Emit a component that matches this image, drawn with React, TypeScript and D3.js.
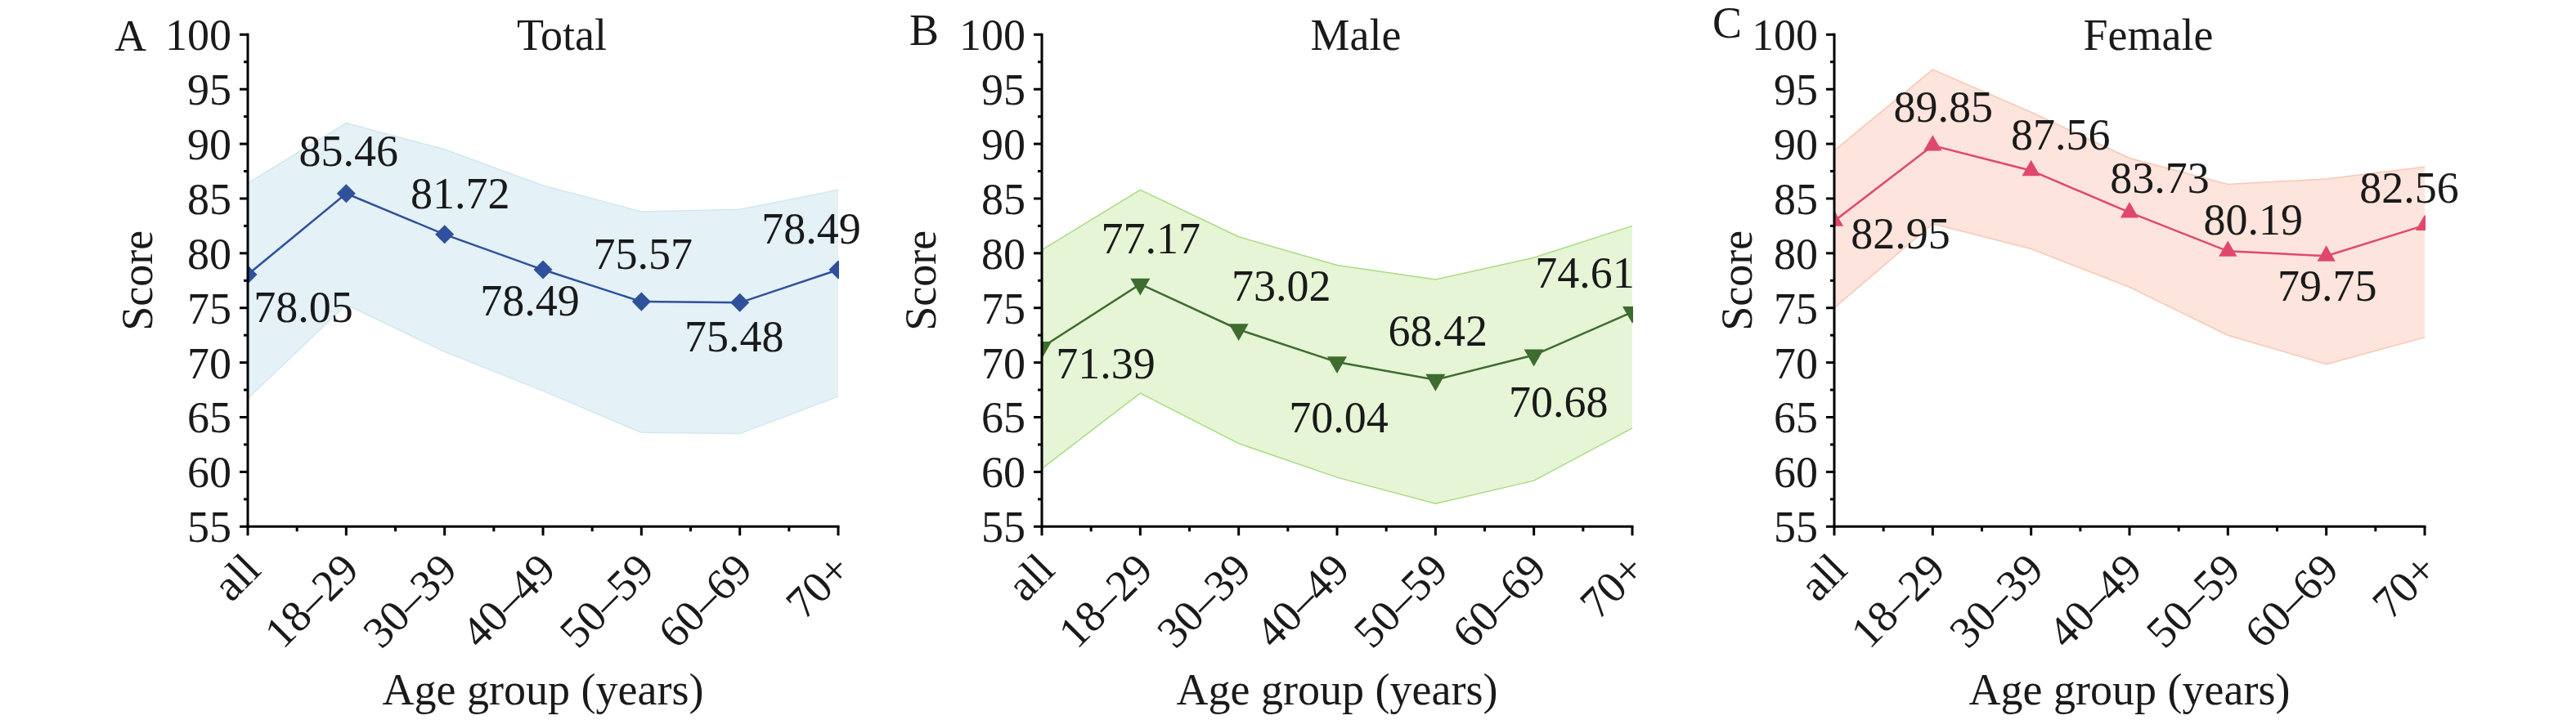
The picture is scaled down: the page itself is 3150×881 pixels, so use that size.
import React from 'react';
import * as d3 from 'd3';

const categories = ['all', '18–29', '30–39', '40–49', '50–59', '60–69', '70+'];
const yTicks = [55, 60, 65, 70, 75, 80, 85, 90, 95, 100];
const yMinorTicks = [57.5, 62.5, 67.5, 72.5, 77.5, 82.5, 87.5, 92.5, 97.5];

const totalMean = [78.05, 85.46, 81.72, 78.49, 75.57, 75.48, 78.49];
const totalUpper = [86.4, 91.9, 89.5, 86.2, 83.8, 84.0, 85.8];
const totalLower = [66.7, 75.3, 71.0, 67.4, 63.6, 63.5, 66.9];

const maleMean = [71.39, 77.17, 73.02, 70.04, 68.42, 70.68, 74.61];
const maleUpper = [80.3, 85.8, 81.5, 78.9, 77.6, 79.6, 82.5];
const maleLower = [60.3, 67.2, 62.6, 59.5, 57.1, 59.2, 64.0];

const femaleMean = [82.95, 89.85, 87.56, 83.73, 80.19, 79.75, 82.56];
const femaleUpper = [89.4, 96.8, 92.9, 88.7, 86.3, 86.8, 87.9];
const femaleLower = [75.0, 82.7, 80.4, 76.9, 72.5, 69.85, 72.3];

// value-label offsets (layout only): [dx, dy] relative to point
const totalLabelOffset = [[68, 58], [3, -34], [19, -32], [-16, 56], [2, -40], [-7, 60], [-33, -32]];
const maleLabelOffset = [[78, 38], [13, -38], [52, -35], [2, 86], [3, -42], [30, 75], [-58, -30]];
const femaleLabelOffset = [[81, 34], [13, -29], [36, -26], [37, -24], [31, -20], [1, 55], [-19, -28]];

const FONT = '"Liberation Serif", "Times New Roman", Times, serif';
const FS = 54;
const Y_TOP = 42.3;
const Y_BOTTOM = 644.3;
const PLOT_W = 722;

type Panel = {
  key: string;
  letter: string;
  title: string;
  x0: number;
  letterX: number;
  letterY: number;
  scoreX: number;
  mean: number[];
  upper: number[];
  lower: number[];
  offsets: number[][];
  fill: string;
  edge: string;
  color: string;
  marker: 'diamond' | 'down' | 'up';
};

const panels: Panel[] = [
  { key: 'A', letter: 'A', title: 'Total', x0: 303, letterX: 140, letterY: 62, scoreX: 186,
    mean: totalMean, upper: totalUpper, lower: totalLower, offsets: totalLabelOffset,
    fill: '#e4f1f6', edge: '#d2e8f0', color: '#2f519c', marker: 'diamond' },
  { key: 'B', letter: 'B', title: 'Male', x0: 1274, letterX: 1112, letterY: 55, scoreX: 1144,
    mean: maleMean, upper: maleUpper, lower: maleLower, offsets: maleLabelOffset,
    fill: '#e6f5d6', edge: '#a9dc82', color: '#3e6c2f', marker: 'down' },
  { key: 'C', letter: 'C', title: 'Female', x0: 2243, letterX: 2094, letterY: 46, scoreX: 2142,
    mean: femaleMean, upper: femaleUpper, lower: femaleLower, offsets: femaleLabelOffset,
    fill: '#fde4dc', edge: '#f7c8b3', color: '#e0486b', marker: 'up' },
];

function PanelView({ p }: { p: Panel }) {
  const x = d3.scalePoint<string>().domain(categories).range([p.x0, p.x0 + PLOT_W]);
  const y = d3.scaleLinear().domain([55, 100]).range([Y_BOTTOM, Y_TOP]);
  const idx = d3.range(categories.length);
  const area = d3.area<number>()
    .x((i) => x(categories[i]) as number)
    .y0((i) => y(p.lower[i]))
    .y1((i) => y(p.upper[i]));
  const upperLine = d3.line<number>().x((i) => x(categories[i]) as number).y((i) => y(p.upper[i]));
  const lowerLine = d3.line<number>().x((i) => x(categories[i]) as number).y((i) => y(p.lower[i]));
  const line = d3.line<number>().x((i) => x(categories[i]) as number).y((i) => y(p.mean[i]));

  let symPath: string;
  let rot = 0;
  if (p.marker === 'diamond') {
    symPath = d3.symbol().type(d3.symbolSquare).size(265)() as string;
    rot = 45;
  } else if (p.marker === 'up') {
    symPath = d3.symbol().type(d3.symbolTriangle).size(215)() as string;
  } else {
    symPath = d3.symbol().type(d3.symbolTriangle).size(250)() as string;
    rot = 180;
  }
  const clipId = `clip-${p.key}`;
  const step = x.step();
  const xMinor = idx.slice(0, -1).map((i) => (x(categories[i]) as number) + step / 2);

  return (
    <g>
      <defs>
        <clipPath id={clipId}>
          <rect x={p.x0} y={Y_TOP - 1} width={PLOT_W + 1} height={Y_BOTTOM - Y_TOP + 2} />
        </clipPath>
      </defs>
      <g clipPath={`url(#${clipId})`}>
        <path d={area(idx) as string} fill={p.fill} stroke="none" />
        <path d={upperLine(idx) as string} fill="none" stroke={p.edge} strokeWidth={1.5} />
        <path d={lowerLine(idx) as string} fill="none" stroke={p.edge} strokeWidth={1.5} />
        <path d={line(idx) as string} fill="none" stroke={p.color} strokeWidth={2.5} />
        {idx.map((i) => (
          <path key={i} d={symPath} fill={p.color}
            transform={`translate(${x(categories[i])},${y(p.mean[i])}) rotate(${rot})`} />
        ))}
      </g>
      {idx.map((i) => (
        <text key={`l${i}`} x={(x(categories[i]) as number) + p.offsets[i][0]} y={y(p.mean[i]) + p.offsets[i][1]}
          textAnchor="middle" fontFamily={FONT} fontSize={FS} fill="#1a1a1a">
          {p.mean[i].toFixed(2)}
        </text>
      ))}
      {/* axes */}
      <line x1={p.x0} x2={p.x0} y1={Y_TOP - 1.5} y2={Y_BOTTOM + 1.5} stroke="#000" strokeWidth={3} />
      <line x1={p.x0 - 1.5} x2={p.x0 + PLOT_W + 1.5} y1={Y_BOTTOM} y2={Y_BOTTOM} stroke="#000" strokeWidth={3} />
      {yTicks.map((t) => (
        <g key={`yt${t}`}>
          <line x1={p.x0 - 10} x2={p.x0} y1={y(t)} y2={y(t)} stroke="#000" strokeWidth={3} />
          <text x={p.x0 - 20} y={y(t)} dy="0.35em" textAnchor="end" fontFamily={FONT} fontSize={FS} fill="#1a1a1a">{t}</text>
        </g>
      ))}
      {yMinorTicks.map((t) => (
        <line key={`ym${t}`} x1={p.x0 - 5} x2={p.x0} y1={y(t)} y2={y(t)} stroke="#000" strokeWidth={3} />
      ))}
      {categories.map((c) => (
        <g key={`xt${c}`}>
          <line x1={x(c)} x2={x(c)} y1={Y_BOTTOM} y2={Y_BOTTOM + 11} stroke="#000" strokeWidth={3} />
          <text transform={`translate(${(x(c) as number) + 18},700) rotate(-45)`} textAnchor="end"
            fontFamily={FONT} fontSize={FS} fill="#1a1a1a">{c}</text>
        </g>
      ))}
      {xMinor.map((m, i) => (
        <line key={`xm${i}`} x1={m} x2={m} y1={Y_BOTTOM} y2={Y_BOTTOM + 6} stroke="#000" strokeWidth={3} />
      ))}
      <text x={p.x0 + 384} y={61} textAnchor="middle" fontFamily={FONT} fontSize={FS} fill="#1a1a1a">{p.title}</text>
      <text x={p.letterX} y={p.letterY} fontFamily={FONT} fontSize={FS} fill="#1a1a1a">{p.letter}</text>
      <text transform={`translate(${p.scoreX},${(Y_TOP + Y_BOTTOM) / 2}) rotate(-90)`} textAnchor="middle"
        fontFamily={FONT} fontSize={FS} fill="#1a1a1a">Score</text>
      <text x={p.x0 + PLOT_W / 2} y={862} textAnchor="middle" fontFamily={FONT} fontSize={FS} fill="#1a1a1a">Age group (years)</text>
    </g>
  );
}

export default function App() {
  return (
    <svg width={3150} height={881} viewBox="0 0 3150 881"
      style={{ position: 'absolute', left: 0, top: 0, background: '#fff' }}>
      <rect width={3150} height={881} fill="#fff" />
      {panels.map((p) => <PanelView key={p.key} p={p} />)}
    </svg>
  );
}
